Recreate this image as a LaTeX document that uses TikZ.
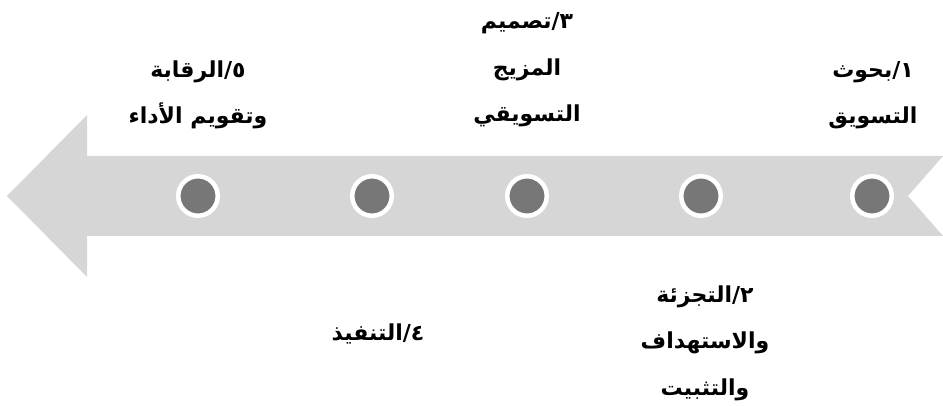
\documentclass[tikz,border=0pt]{standalone}
\usepackage{fontspec}
\newfontfamily\arabicfont[Script=Arabic]{DejaVu Sans}
\TeXXeTstate=1
\definecolor{bandgray}{HTML}{D6D6D6}
\definecolor{dotgray}{HTML}{777777}
\tikzset{
  dot/.style={circle, fill=dotgray, draw=white, line width=4.5pt, minimum size=39.5pt, inner sep=0pt},
  lbl/.style={anchor=base, align=center, inner sep=0pt, font={\arabicfont\bfseries\fontsize{22}{46.5}\selectfont}}
}
\begin{document}
\begin{tikzpicture}[x=1pt,y=-1pt]
\useasboundingbox (0,0) rectangle (943,406);
\fill[bandgray] (7,196) -- (87,115) -- (87,156) -- (943,156) -- (908,196) -- (943,236) -- (87,236) -- (87,277) -- cycle;
\node[dot] (c1) at (872,196) {};
\node[dot] (c2) at (701,196) {};
\node[dot] (c3) at (527,196) {};
\node[dot] (c4) at (372,196) {};
\node[dot] (c5) at (198,196) {};
\node[lbl] (t1) at (873,124) {\beginR ١/بحوث\endR\\\beginR التسويق\endR};
\node[lbl] (t3) at (527,122) {\beginR ٣/تصميم\endR\\\beginR المزيج\endR\\\beginR التسويقي\endR};
\node[lbl] (t5) at (198,124) {\beginR ٥/الرقابة\endR\\\beginR وتقويم الأداء\endR};
\node[lbl] (t2) at (705,395) {\beginR ٢/التجزئة\endR\\\beginR والاستهداف\endR\\\beginR والتثبيت\endR};
\node[lbl] (t4) at (378,340) {\beginR ٤/التنفيذ\endR};
\end{tikzpicture}
\end{document}
